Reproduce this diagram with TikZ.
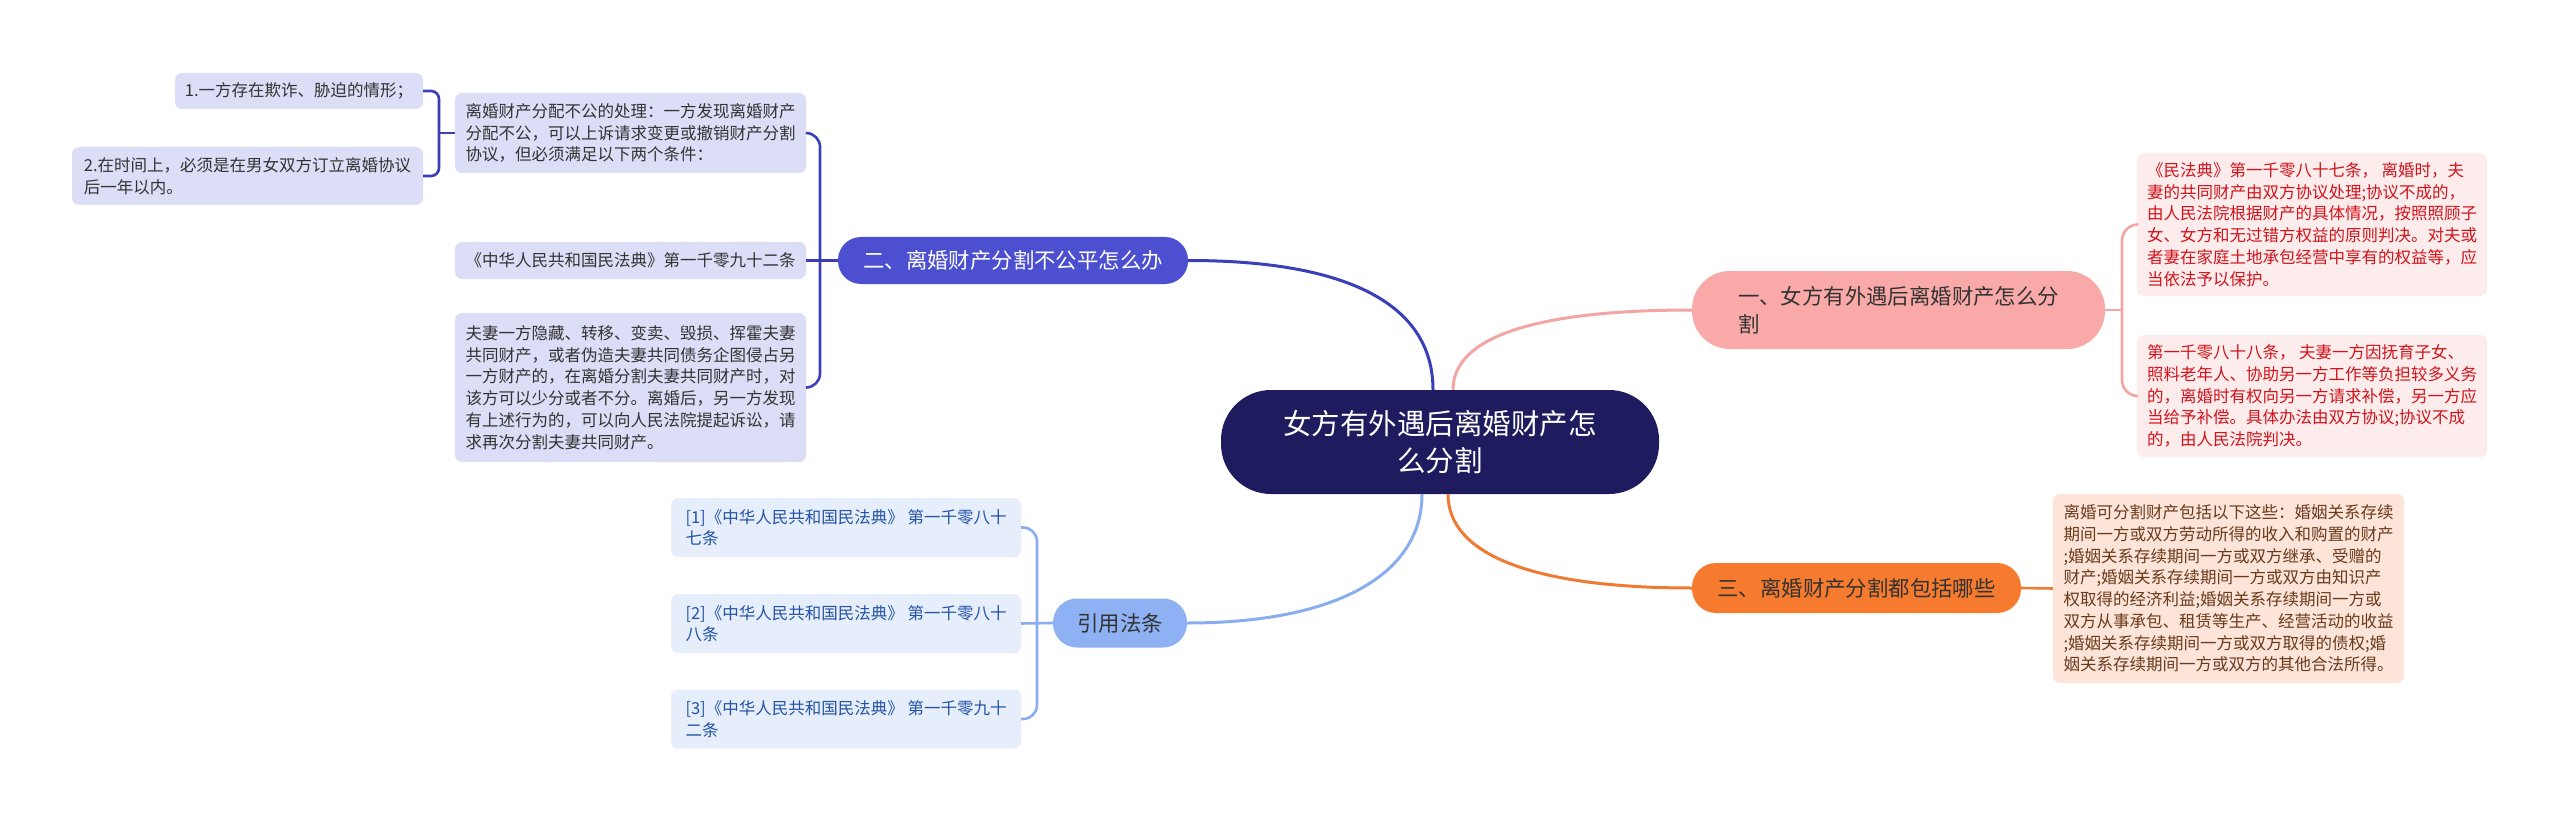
\documentclass[tikz,border=0pt]{standalone}
\usepackage{fontspec}
\setmainfont{Noto Sans CJK SC}
\definecolor{navy}{HTML}{1E1B5E}
\definecolor{bluebr}{HTML}{4B4FD0}
\definecolor{blueln}{HTML}{3A3EB8}
\definecolor{lav}{HTML}{DCDDF6}
\definecolor{pinkbr}{HTML}{F9AAA8}
\definecolor{pinkln}{HTML}{F2A5A3}
\definecolor{pinkbx}{HTML}{FDECEC}
\definecolor{redtx}{HTML}{D0141C}
\definecolor{orabr}{HTML}{F67B2F}
\definecolor{oraln}{HTML}{EE7A33}
\definecolor{orabx}{HTML}{FCE4D8}
\definecolor{browntx}{HTML}{6A3A1C}
\definecolor{ltbr}{HTML}{8DB1F3}
\definecolor{ltln}{HTML}{89ADEE}
\definecolor{ltbx}{HTML}{E6EEFB}
\definecolor{bluetx}{HTML}{2453A6}
\definecolor{darktx}{HTML}{333333}
\begin{document}
\begin{tikzpicture}[x=1pt,y=-1pt,
  box/.style={rounded corners=7, inner sep=0, align=left, font=\fontsize{16.5}{21.7}\selectfont},
  leafL/.style={box, fill=lav, text=darktx},
  leafR/.style={box, fill=pinkbx, text=redtx},
  leafO/.style={box, fill=orabx, text=browntx},
  leafC/.style={box, fill=ltbx, text=bluetx},
  branch/.style={inner sep=0, font=\fontsize{21.4}{28}\selectfont},
  conn/.style={line width=3pt},
  brk/.style={line width=2.6pt}
]
\useasboundingbox[fill=white] (0,0) rectangle (2560,821);

% center
\node[fill=navy, text=white, rounded corners=50, inner sep=0, align=center,
  minimum width=438, minimum height=104, font=\fontsize{28.5}{36.7}\selectfont]
  (C) at (1440,442) {女方有外遇后离婚财产怎\\么分割};

% branches
\node[branch, fill=bluebr, text=white, rounded corners=23, minimum width=350, minimum height=47]
  (B2) at (1013,260.5) {二、离婚财产分割不公平怎么办};
\node[branch, fill=pinkbr, text=darktx, rounded corners=38, minimum width=413, minimum height=78, align=left]
  (B1) at (1898.5,310) {一、女方有外遇后离婚财产怎么分\\割};
\node[branch, fill=orabr, text=darktx, rounded corners=24, minimum width=329, minimum height=50]
  (B3) at (1856.5,588) {三、离婚财产分割都包括哪些};
\node[branch, fill=ltbr, text=darktx, rounded corners=24, minimum width=134, minimum height=49]
  (B4) at (1120,623) {引用法条};

% left leaves
\node[leafL, minimum width=248, minimum height=36] (L1) at (299,91) {1.一方存在欺诈、胁迫的情形；};
\node[leafL, minimum width=351, minimum height=58] (L2) at (247.5,176) {2.在时间上，必须是在男女双方订立离婚协议\\后一年以内。};
\node[leafL, minimum width=351, minimum height=80] (L3) at (630.5,133) {离婚财产分配不公的处理：一方发现离婚财产\\分配不公，可以上诉请求变更或撤销财产分割\\协议，但必须满足以下两个条件：};
\node[leafL, minimum width=351, minimum height=37] (L4) at (630.5,260.5) {《中华人民共和国民法典》第一千零九十二条};
\node[leafL, minimum width=351, minimum height=149] (L5) at (630.5,387.5) {夫妻一方隐藏、转移、变卖、毁损、挥霍夫妻\\共同财产，或者伪造夫妻共同债务企图侵占另\\一方财产的，在离婚分割夫妻共同财产时，对\\该方可以少分或者不分。离婚后，另一方发现\\有上述行为的，可以向人民法院提起诉讼，请\\求再次分割夫妻共同财产。};

% right leaves
\node[leafR, minimum width=350, minimum height=143] (R1) at (2312,224.5) {《民法典》第一千零八十七条， 离婚时，夫\\妻的共同财产由双方协议处理;协议不成的，\\由人民法院根据财产的具体情况，按照照顾子\\女、女方和无过错方权益的原则判决。对夫或\\者妻在家庭土地承包经营中享有的权益等，应\\当依法予以保护。};
\node[leafR, minimum width=350, minimum height=122] (R2) at (2312,396) {第一千零八十八条， 夫妻一方因抚育子女、\\照料老年人、协助另一方工作等负担较多义务\\的，离婚时有权向另一方请求补偿，另一方应\\当给予补偿。具体办法由双方协议;协议不成\\的，由人民法院判决。};
\node[leafO, minimum width=351, minimum height=189] (O1) at (2228.5,588.5) {离婚可分割财产包括以下这些：婚姻关系存续\\期间一方或双方劳动所得的收入和购置的财产\\;婚姻关系存续期间一方或双方继承、受赠的\\财产;婚姻关系存续期间一方或双方由知识产\\权取得的经济利益;婚姻关系存续期间一方或\\双方从事承包、租赁等生产、经营活动的收益\\;婚姻关系存续期间一方或双方取得的债权;婚\\姻关系存续期间一方或双方的其他合法所得。};

% citations
\node[leafC, minimum width=350, minimum height=59] (C1) at (846,527.5) {{[1]}《中华人民共和国民法典》 第一千零八十\\七条};
\node[leafC, minimum width=350, minimum height=59] (C2) at (846,623.5) {{[2]}《中华人民共和国民法典》 第一千零八十\\八条};
\node[leafC, minimum width=350, minimum height=59] (C3) at (846,719) {{[3]}《中华人民共和国民法典》 第一千零九十\\二条};

% main connectors
\draw[conn, blueln] ([xshift=-7pt]C.north) .. controls +(0,-80) and +(170,0) .. (B2.east);
\draw[conn, pinkln] ([xshift=13pt]C.north) .. controls +(0,-55) and +(-150,0) .. (B1.west);
\draw[conn, ltln] ([xshift=-18pt]C.south) .. controls +(0,80) and +(150,0) .. (B4.east);
\draw[conn, oraln] ([xshift=8pt]C.south) .. controls +(0,60) and +(-160,0) .. (B3.west);

% brackets
\coordinate (k1) at (439,133);
\draw[brk, blueln, rounded corners=8] (L1.east) -| (k1) |- (L2.east);
\draw[brk, blueln] (k1) -- (L3.west);

\coordinate (k2) at (820,260.5);
\draw[brk, blueln, rounded corners=14] (L3.east) -| (k2) |- (L5.east);
\draw[brk, blueln] (L4.east) -- (B2.west);

\coordinate (k3) at (2122,310);
\draw[brk, pinkln, rounded corners=16] (R1.west) -| (k3) |- (R2.west);
\draw[brk, pinkln] (B1.east) -- (k3);

\draw[brk, oraln] (B3.east) -- (O1.west);

\coordinate (k4) at (1037,623.5);
\draw[brk, ltln, rounded corners=14] (C1.east) -| (k4) |- (C3.east);
\draw[brk, ltln] (C2.east) -- (B4.west);
\end{tikzpicture}
\end{document}
